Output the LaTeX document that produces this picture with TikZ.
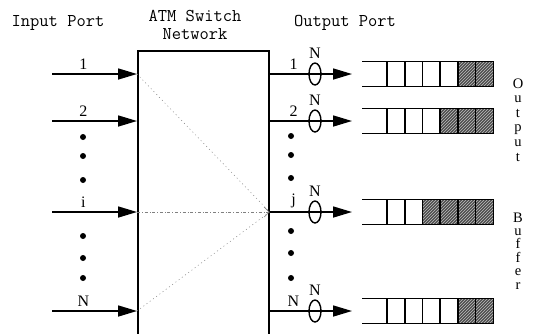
\documentclass[tikz,border=0pt]{standalone}
\usepackage{fontspec}
\newfontfamily\labelfont{Liberation Serif}
\usetikzlibrary{arrows.meta,patterns,positioning,shapes.geometric}
\begin{document}
\begin{tikzpicture}[x = 1pt, y = -1pt,
  port/.style = {line width = 1.6pt, -{Triangle[length = 19pt, width = 11pt]}},
  title/.style = {font = \fontsize{18}{18}\ttfamily, align = center},
  num/.style = {font = \fontsize{16}{16}\labelfont},
  ring/.style = {draw, ellipse, line width = 1.4pt, inner sep = 0pt, minimum width = 12pt, minimum height = 22pt},
  buf/.style = {line width = 1.6pt},
  route/.style = {gray, line width = 0.5pt, dash pattern = on 1pt off 3pt},
  letter/.style = {font = \fontsize{14.5}{14.5}\labelfont, anchor = base, inner sep = 0pt, text height = 9pt, text depth = 0pt}]
\clip (0,0) rectangle (537,333);
% switch and titles
\node [draw, line width = 1.6pt, anchor = north west, minimum width = 131pt, minimum height = 295pt] (sw) at (137,50) {};
\node [title] (inlab) at (58,23) {Input Port};
\node [title] (swlab) at (195,25) {ATM Switch\\Network};
\node [title] (outlab) at (345,23) {Output Port};
% input ports
\foreach \y/\t in {74/1,121/2,212/i,311/N}{
\coordinate (in\t) at (52,\y);
\draw [port] (in\t) -- (in\t -| sw.west) node [num, pos = 0.37, above] {\t};
}
\foreach \y in {137,156,180,236,258,278}{
\fill (83,\y) circle (3pt);
}
% output ports
\foreach \y/\t in {74/1,121/2,212/j,311/N}{
\coordinate (out\t) at (352,\y);
\draw [port] (sw.east |- out\t) -- (out\t) node [num, pos = 0.29, above] {\t};
\node [ring] (ring\t) at (315,\y) {};
\node [num, above = 0pt of ring\t] {N};
}
\foreach \y in {136,155,178,231,253,278}{
\fill (291,\y) circle (3pt);
}
% routes to j
\draw [route] (in1 -| sw.west) -- (outj -| sw.east);
\draw [route] (inN -| sw.west) -- (outj -| sw.east);
\draw [gray, line width = 0.6pt, dash dot, -{Straight Barb[length = 5pt]}] (ini -| sw.west) -- (outj -| sw.east);
% output buffers
\foreach \y/\h in {74/2,121/3,212/4,311/2}{
\foreach \k in {1,...,6}{
\ifnum\k>\numexpr6-\h\relax
\fill [black!70] (369.3+17.7*\k,\y-12.5) rectangle +(17.7,25);
\fill [pattern = north east lines, pattern color = black!25] (369.3+17.7*\k,\y-12.5) rectangle +(17.7,25);
\fi
\draw [buf] (369.3+17.7*\k,\y-12.5) -- +(0,25);
}
\draw [buf] (362,\y-12.5) -- (493.5,\y-12.5) -- (493.5,\y+12.5) -- (362,\y+12.5);
}
% buffer caption
\foreach \c [count = \n from 0] in {O,u,t,p,u,t}{
\node [letter] (vo\n) at (518,88+14.6*\n) {\c};
}
\foreach \c [count = \n from 0] in {B,u,f,f,e,r}{
\node [letter] (vb\n) at (518,222+13.4*\n) {\c};
}
\end{tikzpicture}
\end{document}
